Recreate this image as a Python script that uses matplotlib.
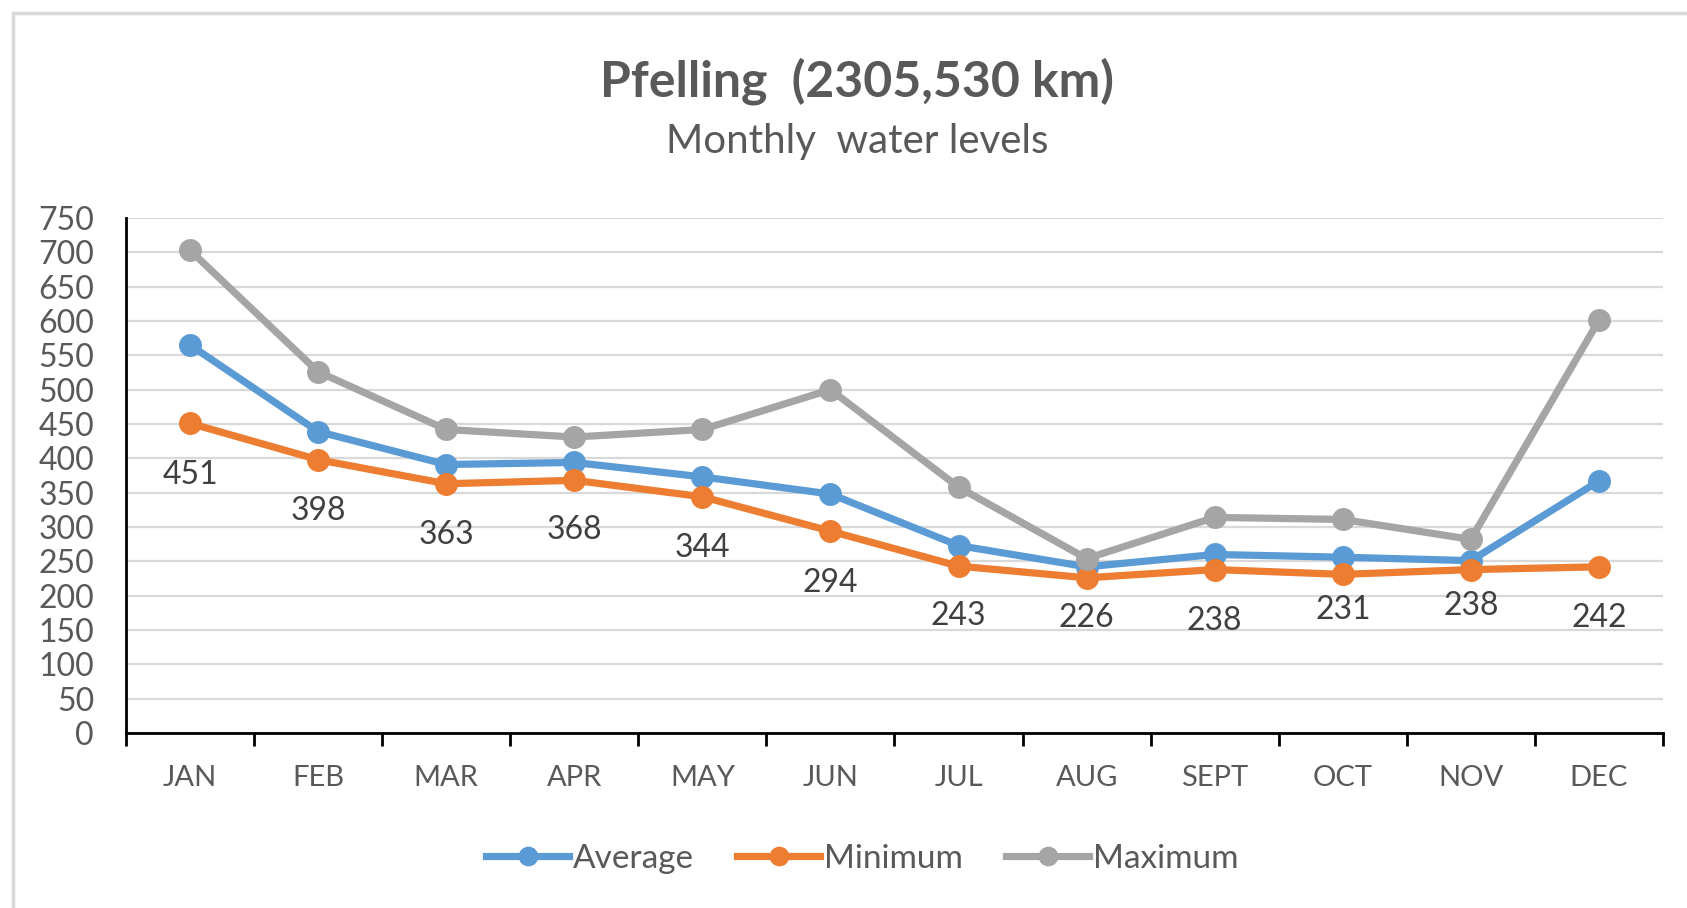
import matplotlib
matplotlib.use("Agg")
import matplotlib.pyplot as plt
from matplotlib.patches import Rectangle

months = ["JAN", "FEB", "MAR", "APR", "MAY", "JUN", "JUL", "AUG", "SEPT", "OCT", "NOV", "DEC"]
average = [565, 439, 391, 394, 373, 348, 273, 242, 260, 256, 251, 367]
minimum = [451, 398, 363, 368, 344, 294, 243, 226, 238, 231, 238, 242]
maximum = [703, 526, 442, 431, 442, 500, 358, 254, 314, 311, 282, 601]
y_ticks = list(range(0, 751, 50))
label_offsets = [37, 37, 37, 36, 37, 37, 36, 29, 37, 26, 26, 37]

plt.rcParams['font.family'] = ['Lato', 'DejaVu Sans']

W, H = 1687, 908
fig = plt.figure(figsize=(W / 100, H / 100), dpi=100)
fig.patch.set_facecolor("white")

# outer chart border
fig.patches.append(Rectangle((13 / W, -0.05), 1.2, 1 - 13 / H + 0.05,
                             transform=fig.transFigure, fill=False,
                             edgecolor="#d9d9d9", linewidth=2.5))

ax = fig.add_axes([126 / W, 1 - 733 / H, (1663 - 126) / W, (733 - 218) / H])
x = list(range(len(months)))

c_avg, c_min, c_max = "#5B9BD5", "#ED7D31", "#A5A5A5"
lw, ms = 5.2, 15.5
ax.plot(x, average, color=c_avg, lw=lw, marker="o", ms=ms, label="Average", zorder=3)
ax.plot(x, minimum, color=c_min, lw=lw, marker="o", ms=ms, label="Minimum", zorder=3)
ax.plot(x, maximum, color=c_max, lw=lw, marker="o", ms=ms, label="Maximum", zorder=3)

for xi, v, off in zip(x, minimum, label_offsets):
    ax.annotate(str(v), (xi, v), xytext=(0, -off), textcoords="offset points",
                ha="center", va="center", fontsize=23, color="#404040")

ax.set_xlim(-0.5, 11.5)
ax.set_ylim(0, 750)
ax.set_yticks(y_ticks)
ax.set_yticklabels([str(t) for t in y_ticks], fontsize=23, color="#595959")
ax.tick_params(axis="y", length=0, pad=23)

ax.set_xticks([i - 0.5 for i in range(13)])
ax.set_xticklabels([])
ax.set_xticks(x, minor=True)
ax.set_xticklabels(months, minor=True, fontsize=21, color="#595959")
ax.tick_params(axis="x", which="major", length=9, width=2, color="black", direction="out")
ax.tick_params(axis="x", which="minor", length=0, pad=23)

ax.grid(axis="y", color="#d9d9d9", linewidth=1.6)
ax.set_axisbelow(True)
for s in ["top", "right"]:
    ax.spines[s].set_visible(False)
ax.spines["left"].set_linewidth(2)
ax.spines["bottom"].set_linewidth(2)
ax.spines["left"].set_color("black")
ax.spines["bottom"].set_color("black")

fig.text(857 / W, 1 - 81 / H, "Pfelling  (2305,530 km)", ha="center", va="center",
         fontsize=36, fontweight="bold", color="#595959")
fig.text(857 / W, 1 - 141 / H, "Monthly  water levels", ha="center", va="center",
         fontsize=29, color="#595959")

leg = fig.legend(loc="center", bbox_to_anchor=(862 / W, 1 - 859 / H), ncol=3,
                 frameon=False, fontsize=24, handlelength=2.5, handletextpad=0.1,
                 columnspacing=1.3, markerscale=0.85)
for t in leg.get_texts():
    t.set_color("#595959")

fig.savefig("out.png", dpi=100, facecolor="white")
